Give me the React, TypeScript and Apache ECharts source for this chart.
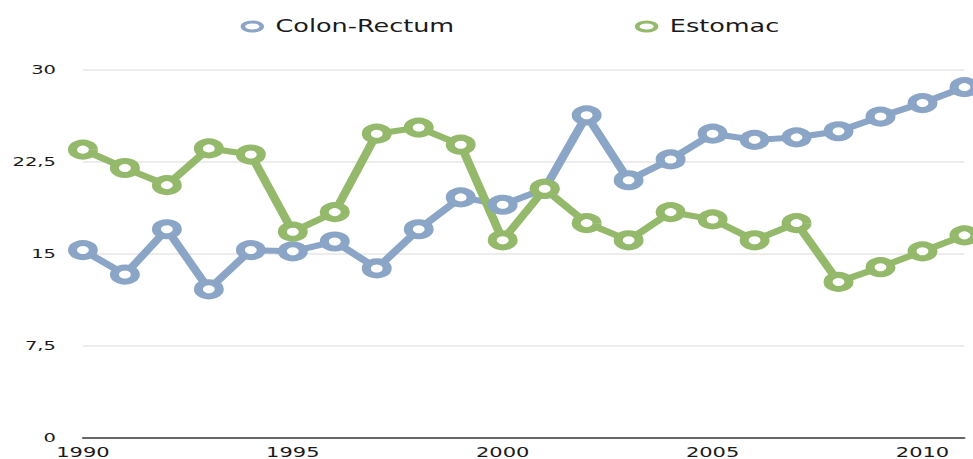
import React, { useEffect, useRef } from 'react';
import * as echarts from 'echarts';

const years = [
  '1990', '1991', '1992', '1993', '1994', '1995', '1996', '1997', '1998', '1999', '2000',
  '2001', '2002', '2003', '2004', '2005', '2006', '2007', '2008', '2009', '2010', '2011',
];
const colonRectum = [
  15.3, 13.3, 17.0, 12.1, 15.3, 15.2, 16.0, 13.8, 17.0, 19.6, 19.0,
  20.3, 26.3, 21.0, 22.7, 24.8, 24.3, 24.5, 25.0, 26.2, 27.3, 28.6,
];
const estomac = [
  23.5, 22.0, 20.6, 23.6, 23.1, 16.8, 18.4, 24.8, 25.3, 23.9, 16.1,
  20.3, 17.5, 16.1, 18.4, 17.8, 16.1, 17.5, 12.7, 13.9, 15.2, 16.5,
];
const seriesNames = ['Colon-Rectum', 'Estomac'];
const yMin = 0;
const yMax = 30;
const yStep = 7.5;

const BLUE = '#8aa5c6';
const GREEN = '#94b96b';
const FONT = 'DejaVu Sans';

const INNER_W = 649;
const H = 459;
const SX = 973 / INNER_W;

export default function App() {
  const ref = useRef<HTMLDivElement>(null);
  useEffect(() => {
    if (!ref.current) return;
    const chart = echarts.init(ref.current, undefined, { renderer: 'svg' });
    const legendBase = {
      orient: 'horizontal',
      top: 13,
      itemWidth: 13,
      itemHeight: 9,
      icon: 'path://M0,5A7,5 0 1,0 14,5A7,5 0 1,0 0,5Z',
      textStyle: {
        fontFamily: FONT,
        fontSize: 17,
        color: '#1a1a1a',
        padding: [0, 0, 0, 4],
      },
      selectedMode: false,
    };
    chart.setOption({
      animation: false,
      backgroundColor: '#ffffff',
      legend: [
        {
          ...legendBase,
          left: 155.5,
          data: [seriesNames[0]],
          itemStyle: { color: '#ffffff', borderColor: BLUE, borderWidth: 3 },
        },
        {
          ...legendBase,
          left: 418.5,
          data: [seriesNames[1]],
          itemStyle: { color: '#ffffff', borderColor: GREEN, borderWidth: 3 },
        },
      ],
      grid: { left: 55.3, right: 5.7, top: 70, bottom: 21.5 },
      xAxis: {
        type: 'category',
        data: years,
        boundaryGap: false,
        axisLine: { show: true, lineStyle: { color: '#3a3a3a', width: 1.5 } },
        axisTick: { show: false },
        axisLabel: {
          interval: 4,
          margin: 7,
          fontFamily: FONT,
          fontSize: 14,
          color: '#1a1a1a',
        },
        splitLine: { show: false },
      },
      yAxis: {
        type: 'value',
        min: yMin,
        max: yMax,
        interval: yStep,
        axisLine: { show: false },
        axisTick: { show: false },
        axisLabel: {
          margin: 18,
          fontFamily: FONT,
          fontSize: 13,
          color: '#1a1a1a',
          formatter: (v: number) => String(v).replace('.', ','),
        },
        splitLine: { show: true, lineStyle: { color: '#e6e6e6', width: 1.5 } },
      },
      series: [
        {
          name: seriesNames[0],
          type: 'line',
          data: colonRectum,
          color: BLUE,
          symbol: 'circle',
          symbolSize: 14,
          showAllSymbol: true,
          lineStyle: { color: BLUE, width: 6 },
          itemStyle: { color: '#ffffff', borderColor: BLUE, borderWidth: 6 },
          emphasis: { disabled: true },
        },
        {
          name: seriesNames[1],
          type: 'line',
          data: estomac,
          color: GREEN,
          symbol: 'circle',
          symbolSize: 14,
          showAllSymbol: true,
          lineStyle: { color: GREEN, width: 6 },
          itemStyle: { color: '#ffffff', borderColor: GREEN, borderWidth: 6 },
          emphasis: { disabled: true },
        },
      ],
    });
    return () => chart.dispose();
  }, []);

  return (
    <div
      style={{
        position: 'fixed',
        left: 0,
        top: 0,
        width: 973,
        height: H,
        overflow: 'hidden',
        background: '#ffffff',
      }}
    >
      <div
        ref={ref}
        style={{
          width: INNER_W,
          height: H,
          transform: `scaleX(${SX})`,
          transformOrigin: '0 0',
        }}
      />
    </div>
  );
}
